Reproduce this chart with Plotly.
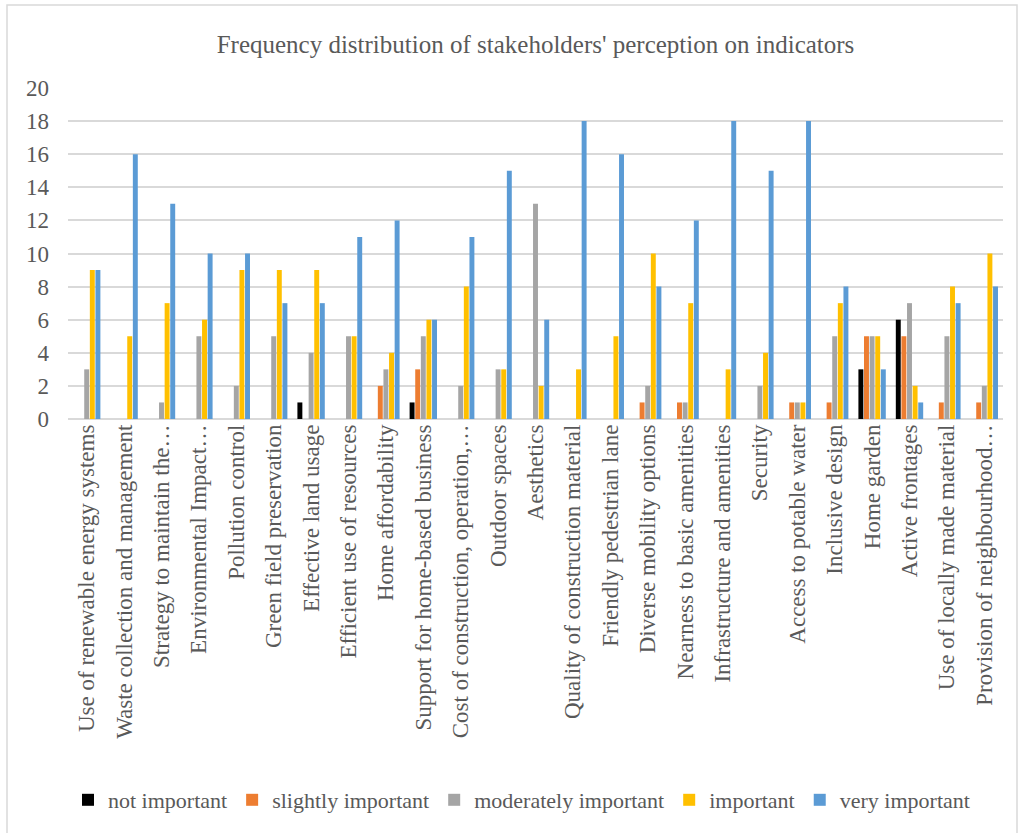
import plotly.graph_objects as go

categories = [
    "Use of renewable energy systems",
    "Waste collection and management",
    "Strategy to maintain the…",
    "Environmental Impact…",
    "Pollution control",
    "Green field preservation",
    "Effective land usage",
    "Efficient use of resources",
    "Home affordability",
    "Support for home-based business",
    "Cost of construction, operation,…",
    "Outdoor spaces",
    "Aesthetics",
    "Quality of construction material",
    "Friendly pedestrian lane",
    "Diverse mobility options",
    "Nearness to basic amenities",
    "Infrastructure and amenities",
    "Security",
    "Access to potable water",
    "Inclusive design",
    "Home garden",
    "Active frontages",
    "Use of locally made material",
    "Provision of neighbourhood…",
]

not_important = [0, 0, 0, 0, 0, 0, 1, 0, 0, 1, 0, 0, 0, 0, 0, 0, 0, 0, 0, 0, 0, 3, 6, 0, 0]
slightly_important = [0, 0, 0, 0, 0, 0, 0, 0, 2, 3, 0, 0, 0, 0, 0, 1, 1, 0, 0, 1, 1, 5, 5, 1, 1]
moderately_important = [3, 0, 1, 5, 2, 5, 4, 5, 3, 5, 2, 3, 13, 0, 0, 2, 1, 0, 2, 1, 5, 5, 7, 5, 2]
important = [9, 5, 7, 6, 9, 9, 9, 5, 4, 6, 8, 3, 2, 3, 5, 10, 7, 3, 4, 1, 7, 5, 2, 8, 10]
very_important = [9, 16, 13, 10, 10, 7, 7, 11, 12, 6, 11, 15, 6, 18, 16, 8, 12, 18, 15, 18, 8, 3, 1, 7, 8]

series = [
    ("not important", not_important, "#000000"),
    ("slightly important", slightly_important, "#ED7D31"),
    ("moderately important", moderately_important, "#A5A5A5"),
    ("important", important, "#FFC000"),
    ("very important", very_important, "#5B9BD5"),
]

FONT = "Liberation Serif, Times New Roman, serif"
TEXT = "#595959"

fig = go.Figure()
for name, vals, color in series:
    fig.add_trace(go.Bar(
        name=name, x=categories, y=vals,
        marker=dict(color=color, line=dict(width=0)),
    ))

W, H = 1018, 833
L, R, T, B = 68, 15, 88, 414
pw, ph = W - L - R, H - T - B

def px_x(v):
    return (v - L) / pw

def px_y(v):
    return 1 - (v - T) / ph

fig.update_layout(
    width=W, height=H,
    margin=dict(l=L, r=R, t=T, b=B),
    paper_bgcolor="white", plot_bgcolor="white",
    barmode="group", bargap=0.25, bargroupgap=0.12,
    font=dict(family=FONT, color=TEXT, size=23),
    title=dict(
        text="Frequency distribution of stakeholders' perception on indicators",
        x=0.5, xref="paper", y=1 - 44 / H, yanchor="middle",
        font=dict(family=FONT, size=25, color=TEXT),
    ),
    xaxis=dict(
        tickangle=-90, showgrid=False, showline=False, ticks="",
        tickfont=dict(family=FONT, size=23, color=TEXT),
    ),
    yaxis=dict(
        range=[0, 20], dtick=2, tick0=0,
        showgrid=True, gridcolor="#D9D9D9", gridwidth=1.5,
        zeroline=True, zerolinecolor="#D9D9D9", zerolinewidth=1.5,
        showline=False, ticks="", ticklabelstandoff=18,
        tickfont=dict(family=FONT, size=23, color=TEXT),
    ),
    legend=dict(
        orientation="h", x=0.485, xanchor="center",
        y=px_y(800), yanchor="middle",
        font=dict(family=FONT, size=22, color=TEXT),
        itemwidth=30, traceorder="normal",
    ),
    showlegend=True,
    shapes=[dict(
        type="rect", xref="paper", yref="paper",
        x0=px_x(7), x1=px_x(1017), y0=px_y(845), y1=px_y(5),
        line=dict(color="#D9D9D9", width=1.5), fillcolor="rgba(0,0,0,0)",
        layer="below",
    )],
)

fig.write_html("out.html")
